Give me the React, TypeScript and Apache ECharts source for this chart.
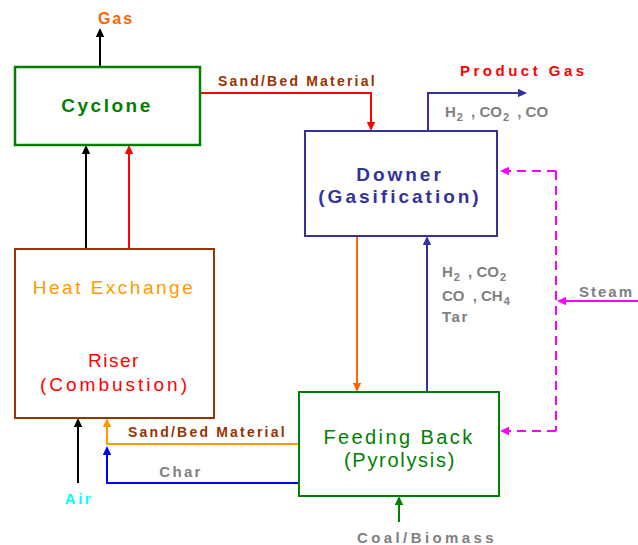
import React, { useEffect, useRef } from "react";
import * as echarts from "echarts";

// ---- diagram content ----
const boxNames = ["Cyclone", "Riser", "Downer", "Feeding Back"];
const boxRects = [
  [15, 67, 185, 78],
  [15, 249, 199, 169],
  [305, 131, 192, 105],
  [299, 392, 200, 104],
];
const boxColors = ["#008000", "#993300", "#333399", "#008000"];

// plain labels
const labelTexts = [
  "Gas",
  "Cyclone",
  "Sand/Bed Material",
  "Product Gas",
  "Downer",
  "(Gasification)",
  "Heat Exchange",
  "Riser",
  "(Combustion)",
  "Feeding Back",
  "(Pyrolysis)",
  "Sand/Bed Material",
  "Char",
  "Air",
  "Coal/Biomass",
  "Steam",
  "Tar",
];
const labelPos = [
  [116, 18], [107, 105], [218, 81], [460, 70], [400, 174], [400, 196],
  [114, 287], [114, 360], [115, 384], [399, 437], [400, 460], [128, 432],
  [181, 471], [79, 498], [427, 537], [579, 291], [442, 316],
];
const labelColors = [
  "#ff6600", "#008000", "#993300", "#ff0000", "#333399", "#333399",
  "#ff9900", "#ff0000", "#ff0000", "#008000", "#008000", "#993300",
  "#808080", "#00ffff", "#808080", "#808080", "#808080",
];
const labelFonts = [
  "bold 16px", "bold 19px", "bold 14px", "bold 15px", "bold 19px", "bold 19px",
  "19px", "19px", "19px", "20px", "20px", "bold 14px",
  "bold 15px", "bold 15px", "bold 15px", "bold 15px", "bold 15px",
];
const labelAlign = [
  "center", "center", "left", "left", "center", "center",
  "center", "center", "center", "center", "center", "left",
  "center", "center", "center", "left", "left",
];
const labelSpacing = [
  2, 2.5, 2.2, 3.5, 3, 3, 2.5, 1.5, 3, 2.4, 1.7, 2.2, 2.3, 2.5, 3.4, 2, 1.5,
];

// chemical formula labels (rich text)
const formulaTexts = [
  "{n|H}{s|2}{c| , CO}{s|2}{c| , CO}",
  "{n|H}{s|2}{c| , CO}{s|2}",
  "{n|CO}{c| , CH}{s|4}",
];
const formulaPos = [[445, 111], [442, 271], [442, 295]];

// flows: points, color, dashed, arrowhead
const flowPoints = [
  [[100, 67], [100, 28]],
  [[86, 249], [86, 145]],
  [[129, 249], [129, 145]],
  [[200, 93], [371, 93], [371, 131]],
  [[428, 131], [428, 93], [527, 93]],
  [[357, 236], [357, 392]],
  [[427, 392], [427, 236]],
  [[299, 444], [107, 444], [107, 418]],
  [[299, 483], [107, 483], [107, 446]],
  [[78, 483], [78, 418]],
  [[399, 522], [399, 496]],
  [[640, 301], [557, 301]],
  [[556, 171], [500, 171]],
  [[556, 431], [500, 431]],
  [[556, 171], [556, 431]],
];
const flowColors = [
  "#000000", "#000000", "#ff0000", "#ff0000", "#333399", "#ff6600",
  "#333399", "#ff9900", "#0000ff", "#000000", "#008000", "#ff00ff",
  "#ff00ff", "#ff00ff", "#ff00ff",
];
const flowDashed = [
  false, false, false, false, false, false, false, false, false, false,
  false, false, true, true, true,
];
const flowHead = [
  true, true, true, true, true, true, true, true, true, true, true, true,
  true, true, false,
];

const FONT_FAMILY = "'Liberation Sans', Arial, sans-serif";

function buildFlow(points: number[][], color: string, dashed: boolean, head: boolean) {
  const els: any[] = [];
  const n = points.length;
  const lineDash = dashed ? [9, 6] : null;
  if (!head) {
    els.push({
      type: "polyline",
      silent: true,
      shape: { points },
      style: { stroke: color, lineWidth: 2, fill: "none", lineDash },
    });
    return els;
  }
  const [x1, y1] = points[n - 2];
  const [x2, y2] = points[n - 1];
  const ang = Math.atan2(y2 - y1, x2 - x1);
  const L = 9;
  const W = 4.2;
  const bx = x2 - L * Math.cos(ang);
  const by = y2 - L * Math.sin(ang);
  const linePts = points.slice(0, n - 1).concat([[bx, by]]);
  els.push({
    type: "polyline",
    silent: true,
    shape: { points: linePts },
    style: { stroke: color, lineWidth: 2, fill: "none", lineDash },
  });
  els.push({
    type: "polygon",
    silent: true,
    shape: {
      points: [
        [x2, y2],
        [bx - W * Math.sin(ang), by + W * Math.cos(ang)],
        [bx + W * Math.sin(ang), by - W * Math.cos(ang)],
      ],
    },
    style: { fill: color },
  });
  return els;
}

export default function App() {
  const ref = useRef<HTMLDivElement>(null);

  useEffect(() => {
    if (!ref.current) return;
    const chart = echarts.init(ref.current, null, { renderer: "svg" });

    const elements: any[] = [];

    flowPoints.forEach((pts, i) => {
      elements.push(...buildFlow(pts, flowColors[i], flowDashed[i], flowHead[i]));
    });

    boxRects.forEach((r, i) => {
      elements.push({
        type: "rect",
        silent: true,
        name: boxNames[i],
        shape: { x: r[0], y: r[1], width: r[2], height: r[3] },
        style: { fill: "none", stroke: boxColors[i], lineWidth: i === 0 ? 2.5 : 2 },
      });
    });

    labelTexts.forEach((t, i) => {
      elements.push({
        type: "text",
        silent: true,
        style: {
          text: t,
          x: labelPos[i][0],
          y: labelPos[i][1],
          fill: labelColors[i],
          font: `${labelFonts[i]} ${FONT_FAMILY}`,
          align: labelAlign[i],
          verticalAlign: "middle",
        },
      });
    });

    formulaTexts.forEach((t, i) => {
      elements.push({
        type: "text",
        silent: true,
        style: {
          text: t,
          x: formulaPos[i][0],
          y: formulaPos[i][1],
          align: "left",
          verticalAlign: "middle",
          rich: {
            n: {
              fill: "#808080",
              fontFamily: FONT_FAMILY,
              fontWeight: "bold",
              fontSize: 15,
              lineHeight: 15,
            },
            c: {
              fill: "#808080",
              fontFamily: FONT_FAMILY,
              fontWeight: "bold",
              fontSize: 15,
              lineHeight: 15,
              padding: [0, 0, 0, 4],
            },
            s: {
              fill: "#808080",
              fontFamily: FONT_FAMILY,
              fontWeight: "bold",
              fontSize: 11,
              lineHeight: 11,
              padding: [11, 0, 0, 1],
            },
          },
        },
      });
    });

    chart.setOption({
      animation: false,
      backgroundColor: "#ffffff",
      graphic: { elements },
    });

    // letter spacing like the original artwork
    const spacingMap: Record<string, number> = {};
    labelTexts.forEach((t, i) => {
      spacingMap[t] = labelSpacing[i];
    });
    const applySpacing = () => {
      ref.current?.querySelectorAll("text").forEach((el) => {
        const s = spacingMap[el.textContent || ""];
        if (s) el.setAttribute("letter-spacing", String(s));
      });
    };
    applySpacing();
    const raf = requestAnimationFrame(applySpacing);

    return () => {
      cancelAnimationFrame(raf);
      chart.dispose();
    };
  }, []);

  return (
    <div
      ref={ref}
      style={{
        position: "absolute",
        left: 0,
        top: 0,
        width: 638,
        height: 545,
        background: "#ffffff",
      }}
    />
  );
}
